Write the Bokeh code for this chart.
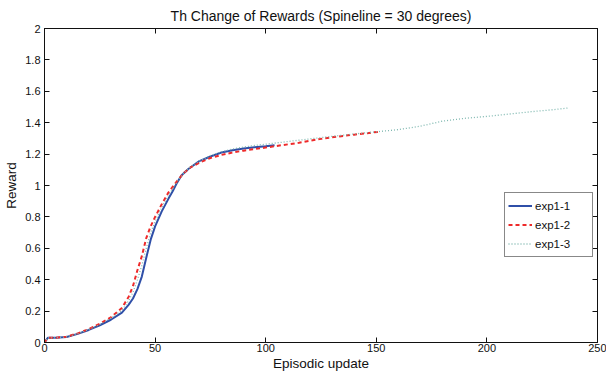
from bokeh.plotting import figure
from bokeh.models import LinearAxis, FixedTicker, Range1d, Legend, LegendItem, Title
from bokeh.embed import file_html
from bokeh.resources import INLINE

# ---- data ----
x_exp1_1 = [0, 1.5, 5, 10, 15, 20, 25, 30, 35, 38, 40, 42, 44, 46, 48, 50, 53, 56, 58,
            60, 62, 65, 70, 75, 80, 85, 90, 95, 100, 104]
y_exp1_1 = [0.0, 0.03, 0.03, 0.035, 0.055, 0.08, 0.11, 0.145, 0.19, 0.24, 0.28, 0.34, 0.42,
            0.54, 0.655, 0.74, 0.835, 0.915, 0.965, 1.02, 1.065, 1.105, 1.155, 1.185, 1.21,
            1.225, 1.235, 1.243, 1.25, 1.257]

x_exp1_2 = [0, 1.5, 5, 10, 15, 20, 25, 30, 35, 38, 40, 42, 44, 46, 48, 50, 53, 56, 60, 63,
            66, 70, 75, 80, 85, 90, 95, 100, 105, 110, 115, 120, 125, 130, 135, 140, 145, 151]
y_exp1_2 = [0.0, 0.03, 0.03, 0.037, 0.058, 0.085, 0.12, 0.16, 0.22, 0.29, 0.36, 0.46, 0.55,
            0.665, 0.74, 0.80, 0.88, 0.955, 1.03, 1.08, 1.115, 1.145, 1.175, 1.195, 1.21,
            1.222, 1.232, 1.242, 1.252, 1.262, 1.272, 1.285, 1.297, 1.307, 1.316, 1.324,
            1.332, 1.342]

x_exp1_3 = [0, 1.5, 5, 10, 15, 20, 25, 30, 35, 38, 40, 42, 44, 46, 48, 50, 53, 56, 60, 63,
            66, 70, 75, 80, 85, 90, 95, 100, 110, 120, 130, 140, 150, 160, 170, 180, 190,
            200, 210, 220, 230, 237]
y_exp1_3 = [0.0, 0.03, 0.03, 0.036, 0.056, 0.083, 0.115, 0.155, 0.205, 0.265, 0.32, 0.40,
            0.49, 0.60, 0.70, 0.77, 0.86, 0.935, 1.025, 1.08, 1.12, 1.155, 1.19, 1.215,
            1.232, 1.245, 1.255, 1.263, 1.28, 1.297, 1.313, 1.328, 1.342, 1.356, 1.378,
            1.41, 1.428, 1.44, 1.455, 1.47, 1.483, 1.494]

series_names = ["exp1-1", "exp1-2", "exp1-3"]
x_ticks = [0, 50, 100, 150, 200, 250]
x_tick_labels = ["0", "50", "100", "150", "200", "250"]
y_ticks = [0, 0.2, 0.4, 0.6, 0.8, 1.0, 1.2, 1.4, 1.6, 1.8, 2.0]
y_tick_labels = ["0", "0.2", "0.4", "0.6", "0.8", "1", "1.2", "1.4", "1.6", "1.8", "2"]

title_text = "Th Change of Rewards (Spineline = 30 degrees)"
x_label = "Episodic update"
y_label = "Reward"

FONT = "Liberation Sans"
INK = "#111111"

p = figure(width=606, height=373, output_backend="svg", toolbar_location=None,
           x_range=Range1d(0, 250), y_range=Range1d(0, 2), title=None,
           min_border_left=44, min_border_right=9, min_border_top=27, min_border_bottom=30,
           x_axis_label=x_label, y_axis_label=y_label)

p.grid.visible = False
p.background_fill_color = "white"
p.border_fill_color = "white"
p.outline_line_color = INK
p.outline_line_width = 1

xa = p.xaxis[0]
xa.ticker = FixedTicker(ticks=x_ticks)
xa.major_label_overrides = dict(zip(x_ticks, x_tick_labels))
ya = p.yaxis[0]
ya.ticker = FixedTicker(ticks=y_ticks)
ya.major_label_overrides = dict(zip(y_ticks, y_tick_labels))

for ax in (xa, ya):
    ax.axis_line_color = INK
    ax.major_tick_line_color = INK
    ax.major_tick_in = 5
    ax.major_tick_out = 0
    ax.minor_tick_line_color = None
    ax.major_label_text_font = FONT
    ax.major_label_text_font_size = "11px"
    ax.major_label_text_color = INK
    ax.axis_label_text_font = FONT
    ax.axis_label_text_font_size = "13.5px"
    ax.axis_label_text_font_style = "normal"
    ax.axis_label_text_color = INK
xa.major_label_standoff = 1
xa.axis_label_standoff = 1
ya.major_label_standoff = 4
ya.axis_label_standoff = 3

# mirrored tick marks on the top and right edges (no labels drawn)
top_ax = LinearAxis(ticker=FixedTicker(ticks=x_ticks), major_label_text_font_size="1px",
                    major_label_text_color=None, major_tick_in=5, major_tick_out=0,
                    major_label_standoff=0, minor_tick_line_color=None,
                    axis_line_color=INK, major_tick_line_color=INK)
right_ax = LinearAxis(ticker=FixedTicker(ticks=y_ticks), major_label_text_font_size="1px",
                      major_label_text_color=None, major_tick_in=5, major_tick_out=0,
                      major_label_standoff=0, minor_tick_line_color=None,
                      axis_line_color=INK, major_tick_line_color=INK)
p.add_layout(top_ax, "above")
p.add_layout(right_ax, "right")

title = Title(text=title_text, text_font=FONT, text_font_size="14px",
              text_font_style="normal", align="center", standoff=0, offset=4,
              text_color=INK, padding=5)
p.add_layout(title, "above")

r1 = p.line(x_exp1_1, y_exp1_1, line_color="#2f4fa8", line_width=2)
r2 = p.line(x_exp1_2, y_exp1_2, line_color="#ee2a2a", line_width=2, line_dash="4 3")
r3 = p.line(x_exp1_3, y_exp1_3, line_color="#7fb8b0", line_width=1.3, line_dash="1 2")

legend = Legend(items=[LegendItem(label=series_names[0], renderers=[r1]),
                       LegendItem(label=series_names[1], renderers=[r2]),
                       LegendItem(label=series_names[2], renderers=[r3])],
                location=(460, 85), padding=3, spacing=0, margin=0,
                label_height=19, glyph_height=19, glyph_width=24, label_standoff=3,
                label_width=54, border_line_color=INK, border_line_width=1,
                label_text_font=FONT, label_text_font_size="11.5px",
                label_text_color=INK, background_fill_alpha=1)
p.add_layout(legend)

open("out.html", "w").write(file_html(p, INLINE))
